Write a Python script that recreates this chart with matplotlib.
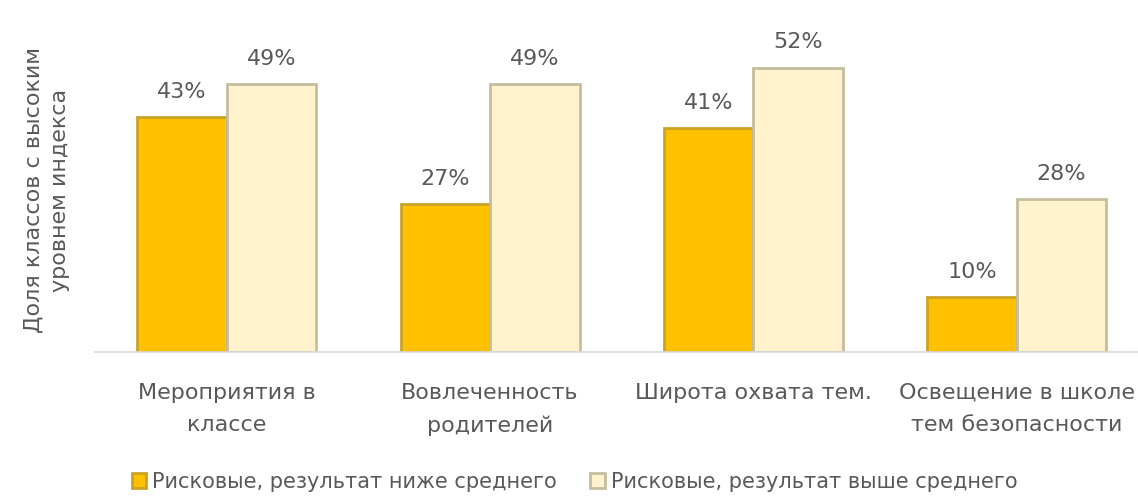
import matplotlib.pyplot as plt
import numpy as np

categories = ['Мероприятия в\nклассе', 'Вовлеченность\nродителей',
              'Широта охвата тем.', 'Освещение в школе\nтем безопасности']
below_avg = [43, 27, 41, 10]
above_avg = [49, 49, 52, 28]
series_names = ['Рисковые, результат ниже среднего', 'Рисковые, результат выше среднего']
ylabel = 'Доля классов с высоким\nуровнем индекса'

plt.rcParams['font.family'] = ['DejaVu Sans']
text_color = '#595959'

fig = plt.figure(figsize=(11.38, 4.99), dpi=100)
ax = fig.add_axes([95 / 1138, 1 - 352 / 499, 1 - 95 / 1138, 328 / 499])

x = np.arange(len(categories))
w = 0.34
b1 = ax.bar(x - w / 2, below_avg, w, color='#FFC000', edgecolor='#C9A227', linewidth=2,
            label=series_names[0])
b2 = ax.bar(x + w / 2, above_avg, w, color='#FFF2CC', edgecolor='#C4BE9E', linewidth=2,
            label=series_names[1])

for bars in (b1, b2):
    ax.bar_label(bars, labels=[f'{v:.0f}%' for v in bars.datavalues], padding=11,
                 fontsize=16, color=text_color)

ax.set_xlim(-0.5, 3.46)
ax.set_ylim(0, 60)
ax.set_xticks(x)
ax.set_xticklabels(categories, fontsize=16, color=text_color, linespacing=1.8)
ax.tick_params(axis='x', length=0, pad=22)
ax.set_yticks([])
for s in ('top', 'right', 'left'):
    ax.spines[s].set_visible(False)
ax.spines['bottom'].set_color('#D9D9D9')
ax.spines['bottom'].set_linewidth(1.2)

fig.text(47 / 1138, 1 - 190 / 499, ylabel, rotation=90, ha='center', va='center',
         fontsize=16, color=text_color, linespacing=1.4)

leg = fig.legend(handles=[b1, b2], loc='center', bbox_to_anchor=(0.505, 1 - 482 / 499),
                 ncol=2, frameon=False, fontsize=15, handlelength=0.7, handleheight=0.7,
                 columnspacing=1.6, handletextpad=0.3, labelcolor=text_color)

fig.savefig('out.png', dpi=100, facecolor='white')
